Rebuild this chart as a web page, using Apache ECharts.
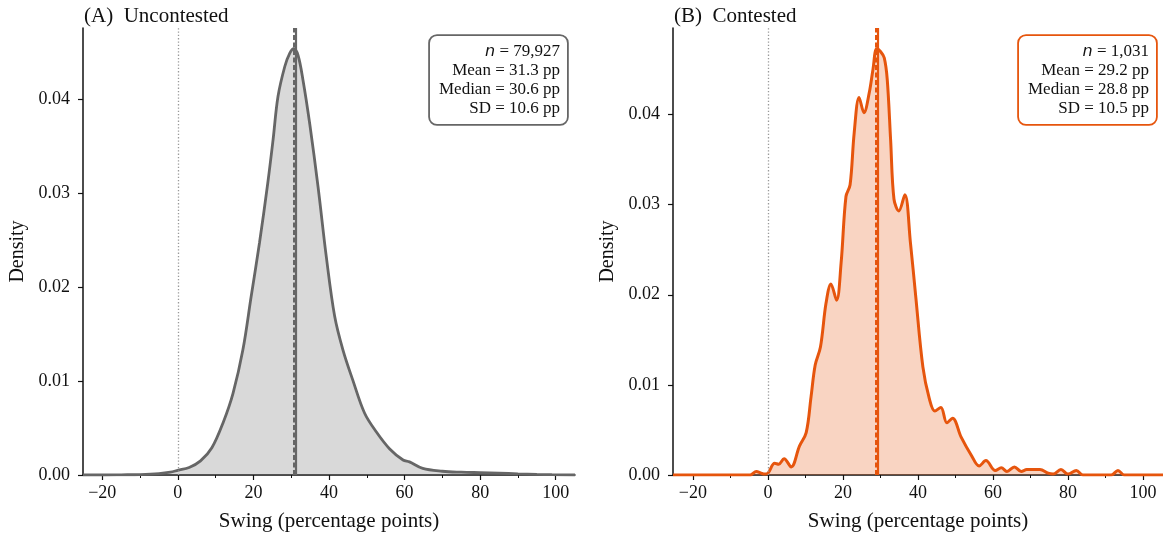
<!DOCTYPE html>
<html>
<head>
<meta charset="utf-8">
<script src="https://cdn.jsdelivr.net/npm/echarts@6/dist/echarts.min.js"></script>
<style>
  html, body { margin: 0; padding: 0; background: #fff; }
  #chart { width: 1163px; height: 540px; }
</style>
</head>
<body>
<div id="chart"></div>
<script>
// Kernel density of swing (percentage points), uncontested seats
const swingA = [-25.1, -19, -15, -10, -5, -2, 0, 3, 6, 9, 12, 14.6, 17.2, 19.4, 21.6, 23.8, 25.2, 26.5, 28.3, 29.6, 30.7, 31.8, 33.1, 34.9, 37.1, 39.3, 41.5, 43.7, 46.3, 49.4, 52.5, 56, 59.6, 61.3, 64.8, 70, 75, 80, 85, 90, 95, 99, 105.1];
const densityA = [0, 0, 0.00002, 0.00005, 0.00015, 0.0003, 0.0005, 0.0008, 0.0015, 0.0029, 0.0056, 0.0087, 0.0133, 0.0190, 0.0247, 0.0311, 0.0357, 0.0403, 0.0435, 0.0449, 0.0454, 0.0447, 0.0421, 0.0374, 0.0307, 0.0232, 0.0169, 0.0133, 0.0101, 0.0066, 0.0046, 0.0028, 0.0016, 0.0014, 0.0007, 0.0004, 0.0003, 0.00025, 0.0002, 0.00012, 0.00006, 0.00003, 0];

// Kernel density of swing, contested seats
const swingB = [-25.3, -19, -5, -4.4, -3.1, -1.8, -0.9, 0, 1.8, 2.9, 4.3, 6.2, 8.4, 10.2, 11.5, 12.6, 14, 15.5, 16.8, 18.3, 19.5, 20.8, 21.9, 23, 24.3, 25.6, 27, 28, 29, 30, 31, 31.8, 32.7, 33.6, 34.9, 36.5, 38, 39.4, 41.3, 43, 44.5, 46.1, 47.7, 49.2, 51.5, 54.2, 56.3, 58.1, 60.6, 62.2, 63.7, 65.7, 67.5, 69, 72.5, 74.7, 76, 78.1, 80, 82.2, 84, 91.5, 93.3, 95, 100, 105.3];
const densityB = [0, 0, 0, 0.00005, 0.0004, 0.0002, 0.0001, 0.0002, 0.0013, 0.0012, 0.0018, 0.0009, 0.0032, 0.0047, 0.0087, 0.0122, 0.0142, 0.0191, 0.0212, 0.0194, 0.0235, 0.0309, 0.0322, 0.0380, 0.0419, 0.0402, 0.0424, 0.0450, 0.0473, 0.0470, 0.0463, 0.0439, 0.0372, 0.0306, 0.0293, 0.0311, 0.0257, 0.0198, 0.0120, 0.0085, 0.0071, 0.0075, 0.0058, 0.0063, 0.0042, 0.0022, 0.0010, 0.0016, 0.0005, 0.0008, 0.0004, 0.0009, 0.0004, 0.0006, 0.0006, 0.0002, 0.0001, 0.0006, 0.0001, 0.0005, 0, 0, 0.0005, 0, 0, 0];

// Summary statistics
const statsA = { n: '79,927', mean: 31.3, median: 30.6, sd: 10.6 };
const statsB = { n: '1,031', mean: 29.2, median: 28.8, sd: 10.5 };

const panelTitles = ['(A)  Uncontested', '(B)  Contested'];
const xMajorTicks = [-20, 0, 20, 40, 60, 80, 100];
const xMinorTicks = [-10, 10, 30, 50, 70, 90];
const yTicks = [0, 0.01, 0.02, 0.03, 0.04];

const GRAY = '#666666';
const ORANGE = '#e6550d';
const SERIF = '"Liberation Serif", "Times New Roman", serif';

const pairs = (xs, ys) => xs.map((x, i) => [x, ys[i]]);
const fmtX = v => (v < 0 ? '\u2212' + Math.abs(v) : String(v));

function xAxisMain(grid, min, max) {
  return {
    type: 'value', gridIndex: grid, min: min, max: max, position: 'bottom',
    name: 'Swing (percentage points)', nameLocation: 'middle', nameGap: 36,
    nameTextStyle: { fontFamily: SERIF, fontSize: 21, color: '#111' },
    axisLine: { show: true, onZero: false, lineStyle: { color: '#111', width: 1.5 } },
    axisTick: { show: true, length: 5, customValues: xMajorTicks, lineStyle: { color: '#111', width: 1.2 } },
    axisLabel: { customValues: xMajorTicks, formatter: fmtX, margin: 9, fontFamily: SERIF, fontSize: 18, color: '#111' },
    splitLine: { show: false }
  };
}
function xAxisMinor(grid, min, max) {
  return {
    type: 'value', gridIndex: grid, min: min, max: max, position: 'bottom',
    axisLine: { show: false, onZero: false },
    axisTick: { show: true, length: 3, customValues: xMinorTicks, lineStyle: { color: '#111', width: 1 } },
    axisLabel: { show: false },
    splitLine: { show: false }
  };
}
function yAxis(grid, max) {
  return {
    type: 'value', gridIndex: grid, min: 0, max: max, position: 'left',
    name: 'Density', nameLocation: 'middle', nameGap: 55, nameRotate: 90,
    nameTextStyle: { fontFamily: SERIF, fontSize: 20, color: '#111' },
    axisLine: { show: true, onZero: false, lineStyle: { color: '#111', width: 1.5 } },
    axisTick: { show: true, length: 5, customValues: yTicks, lineStyle: { color: '#111', width: 1.2 } },
    axisLabel: { customValues: yTicks, formatter: v => v.toFixed(2), margin: 13, fontFamily: SERIF, fontSize: 18, color: '#111' },
    splitLine: { show: false }
  };
}

function densitySeries(idx, xs, ys, color, stats, width) {
  return {
    type: 'line', xAxisIndex: idx, yAxisIndex: idx,
    data: pairs(xs, ys), showSymbol: false, smooth: 0.35,
    lineStyle: { color: color, width: width },
    areaStyle: { color: color, opacity: 0.25 },
    z: 2,
    markLine: {
      silent: true, symbol: 'none', label: { show: false }, animation: false,
      data: [
        { xAxis: 0, lineStyle: { color: '#999', width: 1.3, type: [1.3, 2] } },
        { xAxis: stats.median, lineStyle: { color: color, width: 2, type: [5, 2.5] } },
        { xAxis: stats.mean, lineStyle: { color: color, width: 2.2, type: 'solid' } }
      ]
    }
  };
}

// Summary box: right-aligned lines inside a rounded frame
function statsBox(stats, color, xRight) {
  return {
    type: 'text', x: xRight, y: 36, z: 100,
    style: {
      text: '{it|n} = ' + stats.n + '\nMean = ' + stats.mean.toFixed(1) + ' pp\nMedian = ' + stats.median.toFixed(1) + ' pp\nSD = ' + stats.sd.toFixed(1) + ' pp',
      align: 'right', verticalAlign: 'top',
      font: '17px ' + SERIF, fill: '#111', lineHeight: 19,
      padding: [6, 7, 6, 9],
      backgroundColor: '#fff',
      borderColor: color, borderWidth: 1.8, borderRadius: 7,
      rich: { it: { fontFamily: '"DejaVu Sans", sans-serif', fontStyle: 'italic', fontSize: 16, fill: '#111', lineHeight: 19 } }
    }
  };
}

const chart = echarts.init(document.getElementById('chart'), null, { renderer: 'canvas' });
chart.setOption({
  animation: false,
  backgroundColor: '#fff',
  title: [
    { text: panelTitles[0], left: 79, top: 1, textStyle: { fontFamily: SERIF, fontSize: 21, fontWeight: 'normal', color: '#111' } },
    { text: panelTitles[1], left: 669, top: 1, textStyle: { fontFamily: SERIF, fontSize: 21, fontWeight: 'normal', color: '#111' } }
  ],
  graphic: [
    statsBox(statsA, GRAY, 567),
    statsBox(statsB, ORANGE, 1156)
  ],
  grid: [
    { left: 83, top: 28, width: 492, height: 447 },
    { left: 673, top: 28, width: 492, height: 447 }
  ],
  xAxis: [
    xAxisMain(0, -25.1, 105.1),
    xAxisMain(1, -25.3, 105.3),
    xAxisMinor(0, -25.1, 105.1),
    xAxisMinor(1, -25.3, 105.3)
  ],
  yAxis: [yAxis(0, 0.0476), yAxis(1, 0.0496)],
  series: [
    densitySeries(0, swingA, densityA, GRAY, statsA, 2.8),
    densitySeries(1, swingB, densityB, ORANGE, statsB, 3)
  ]
});
</script>
</body>
</html>
